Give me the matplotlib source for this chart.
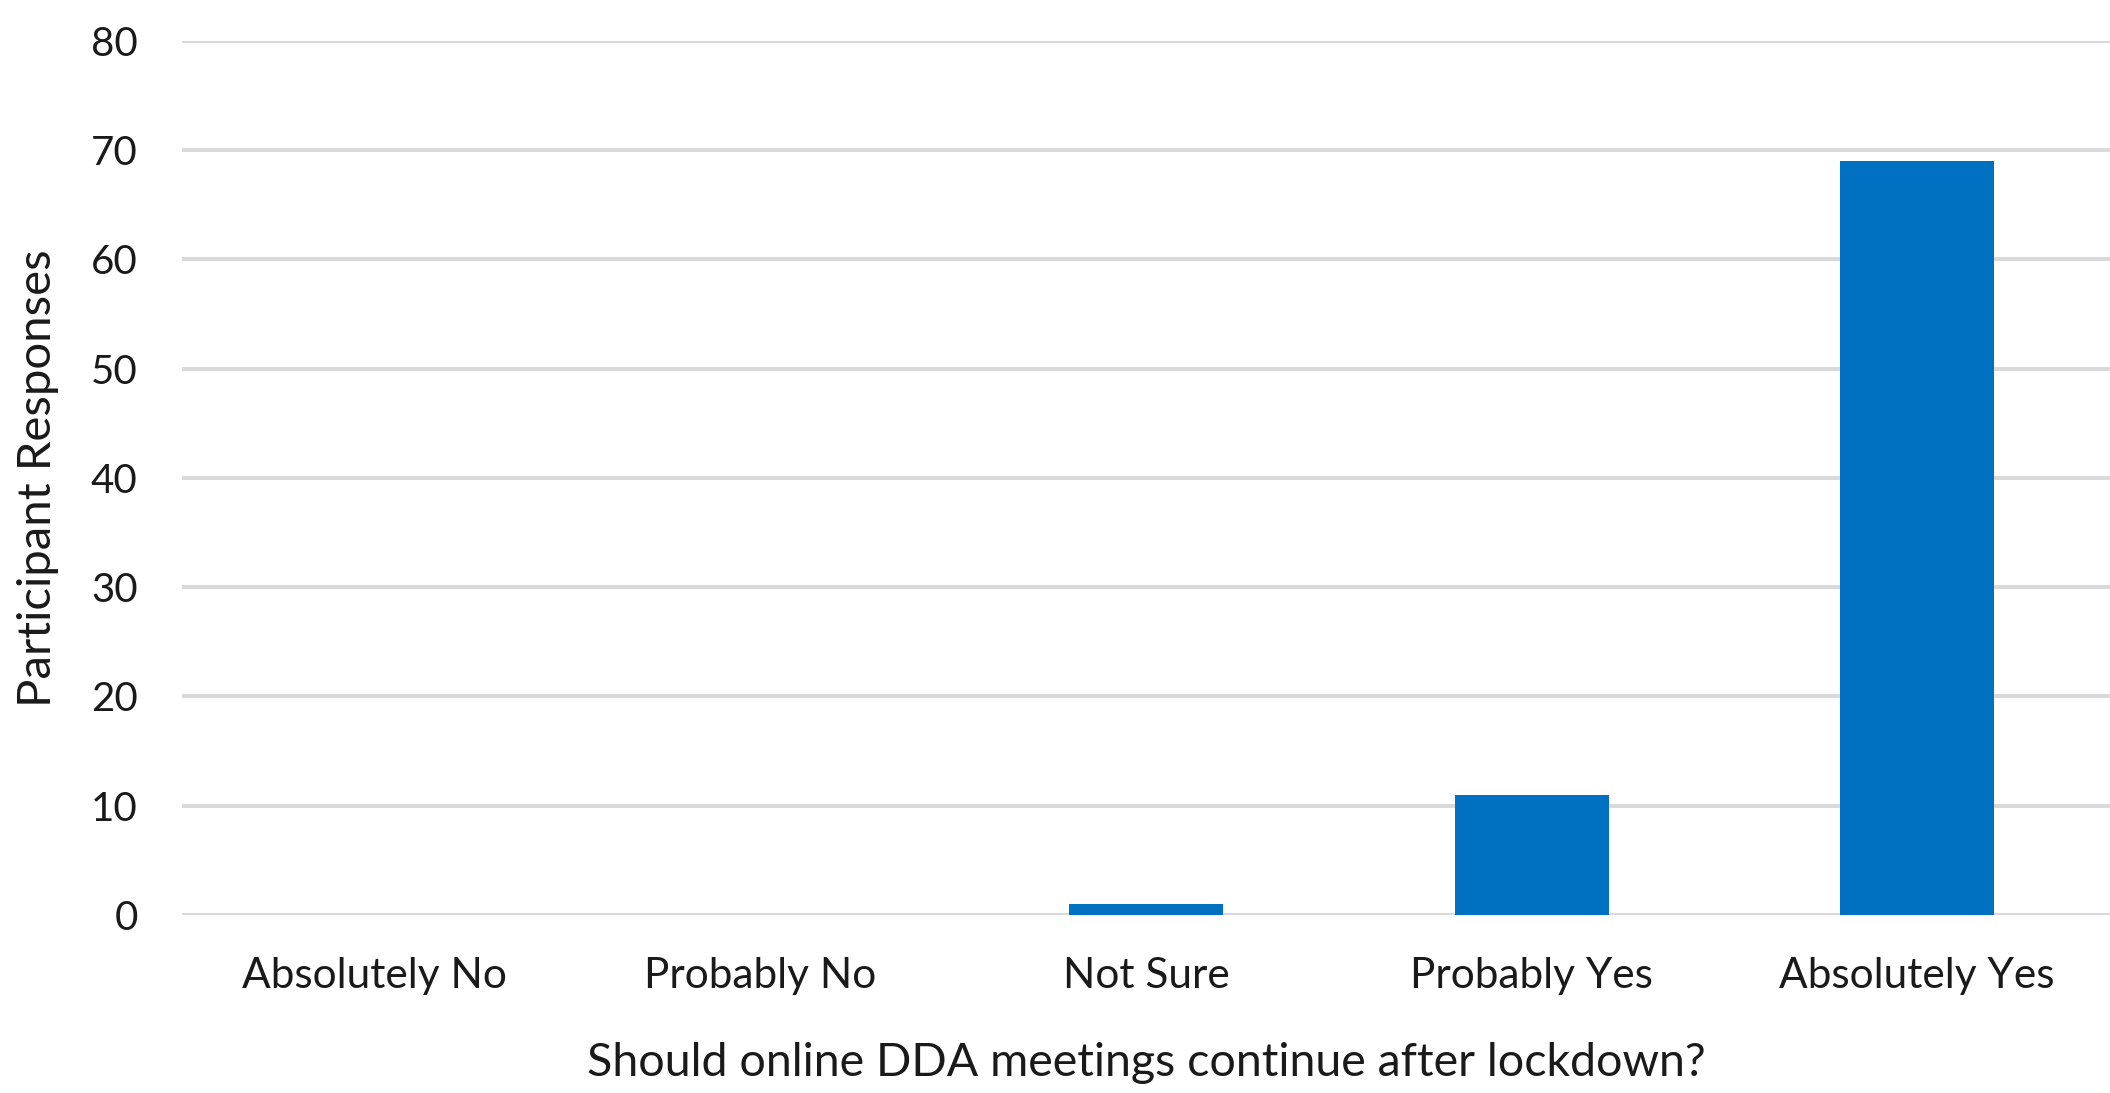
import matplotlib
matplotlib.use("Agg")
import matplotlib.pyplot as plt

categories = ["Absolutely No", "Probably No", "Not Sure", "Probably Yes", "Absolutely Yes"]
responses = [0, 0, 1, 11, 69]
yticks = [0, 10, 20, 30, 40, 50, 60, 70, 80]

plt.rcParams['font.family'] = ['Lato', 'DejaVu Sans']

fig = plt.figure(figsize=(21.1, 10.93), dpi=100)
ax = fig.add_axes([0.0863, 0.163, 0.9137, 0.7995])

x = range(len(categories))
ax.bar(x, responses, width=0.4, color="#0070C0", zorder=3)

ax.set_xlim(-0.5, len(categories) - 0.5)
ax.set_ylim(0, 80)
ax.set_yticks(yticks)
ax.set_yticklabels([str(v) for v in yticks])
ax.set_xticks(list(x))
ax.set_xticklabels(categories)

for s in ax.spines.values():
    s.set_visible(False)
ax.yaxis.grid(True, color="#D9D9D9", linewidth=2.9, zorder=0)
ax.set_axisbelow(True)
ax.tick_params(axis="both", length=0)
ax.tick_params(axis="y", pad=32, labelsize=29)
ax.tick_params(axis="x", pad=30, labelsize=30.5)
for lab in ax.get_yticklabels() + ax.get_xticklabels():
    lab.set_color("#1a1a1a")

ax.set_ylabel("Participant Responses", fontsize=34, color="#1a1a1a", labelpad=23)
ax.set_xlabel("Should online DDA meetings continue after lockdown?", fontsize=33.5,
              color="#1a1a1a", labelpad=34)

fig.savefig("out.png", dpi=100, facecolor="white")
